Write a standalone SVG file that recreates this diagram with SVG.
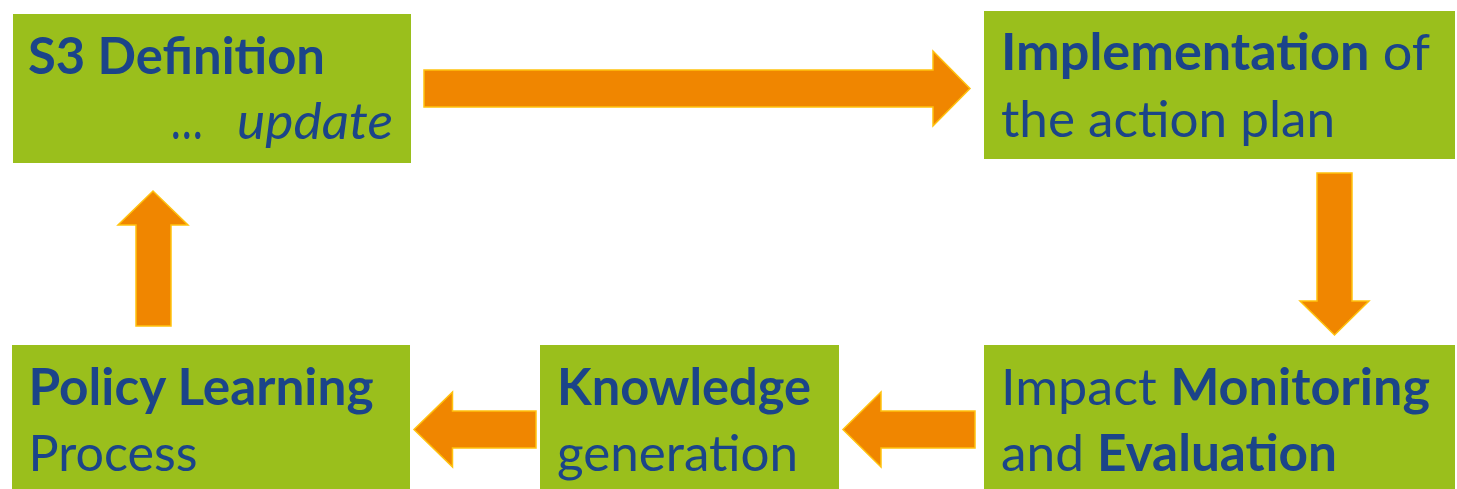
<svg xmlns="http://www.w3.org/2000/svg" width="1457" height="489" viewBox="0 0 1457 489">
<style>
.box{fill:#9abf1c}
.t{font-family:Lato,"Open Sans","Liberation Sans",sans-serif;font-size:51px;fill:#1b4489}
.b{font-weight:bold}
.i{font-style:italic}
.big{font-size:58px}
.arrow{fill:#f08600;stroke:#ffc20e;stroke-width:1.5;stroke-linejoin:miter}
</style>
<rect x="0" y="0" width="1457" height="489" fill="#ffffff"/>
<g id="connectors">
<polygon class="arrow" points="424,70 933,70 933,51 970,88.5 933,126 933,107 424,107"/>
<polygon class="arrow" points="1317,173 1352,173 1352,301 1369,301 1334.5,335 1300,301 1317,301"/>
<polygon class="arrow" points="975,411 881,411 881,392 843,429.5 881,467 881,448 975,448"/>
<polygon class="arrow" points="536,411 452.5,411 452.5,392 414,429.5 452.5,467 452.5,448 536,448"/>
<polygon class="arrow" points="136,326 171,326 171,225 188,225 153,191 118,225 136,225"/>
</g>
<g id="node-s3">
<rect class="box" x="13" y="14" width="398" height="149"/>
<text class="t b" x="28" y="74" textLength="297" lengthAdjust="spacingAndGlyphs">S3 Definition</text>
<text class="t i big" x="172" y="139" textLength="32" lengthAdjust="spacingAndGlyphs">…</text>
<text class="t i" x="237" y="139" textLength="156" lengthAdjust="spacingAndGlyphs">update</text>
</g>
<g id="node-implementation">
<rect class="box" x="984" y="11" width="471" height="148"/>
<text class="t" x="1001" y="70" textLength="429" lengthAdjust="spacingAndGlyphs"><tspan class="b">Implementation</tspan> of</text>
<text class="t" x="1001" y="137" textLength="334" lengthAdjust="spacingAndGlyphs">the action plan</text>
</g>
<g id="node-monitoring">
<rect class="box" x="984" y="345" width="471" height="144"/>
<text class="t" x="1001" y="405" textLength="429" lengthAdjust="spacingAndGlyphs">Impact <tspan class="b">Monitoring</tspan></text>
<text class="t" x="1001" y="471" textLength="336" lengthAdjust="spacingAndGlyphs">and <tspan class="b">Evaluation</tspan></text>
</g>
<g id="node-knowledge">
<rect class="box" x="540" y="345" width="299" height="144"/>
<text class="t b" x="557" y="405" textLength="254" lengthAdjust="spacingAndGlyphs">Knowledge</text>
<text class="t" x="557" y="471" textLength="241" lengthAdjust="spacingAndGlyphs">generation</text>
</g>
<g id="node-policy">
<rect class="box" x="12" y="345" width="398" height="144"/>
<text class="t b" x="28.5" y="405" textLength="345" lengthAdjust="spacingAndGlyphs">Policy Learning</text>
<text class="t" x="28.5" y="471" textLength="169" lengthAdjust="spacingAndGlyphs">Process</text>
</g>
</svg>
